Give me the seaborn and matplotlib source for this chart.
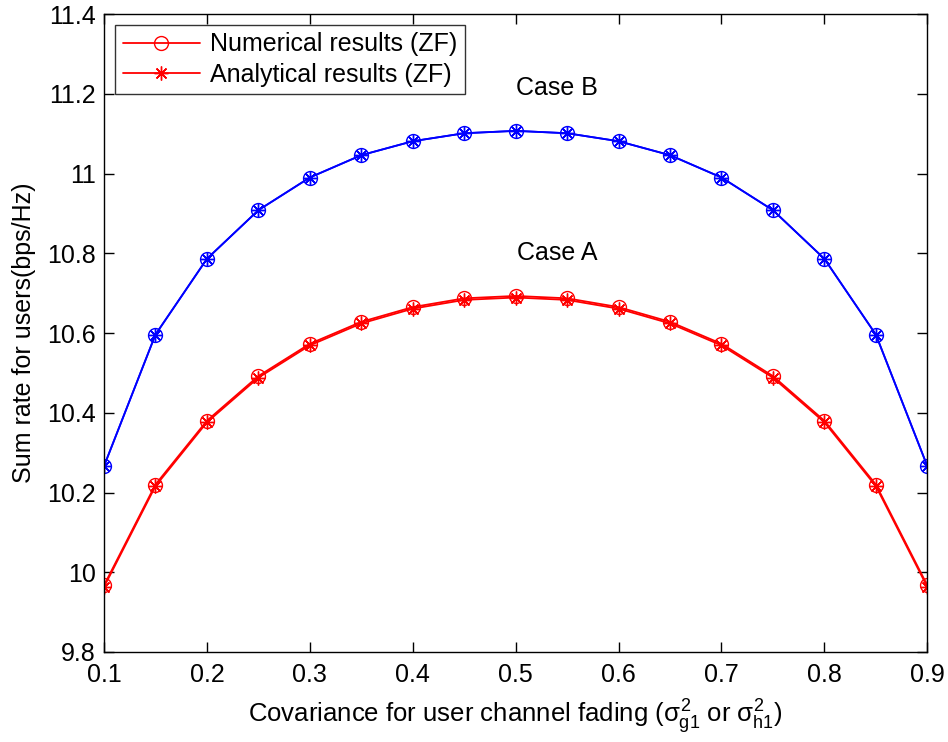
import numpy as np
import pandas as pd
import matplotlib
matplotlib.use("Agg")
import matplotlib.pyplot as plt
import seaborn as sns

# Covariance values on the x axis
sigma = [0.10, 0.15, 0.20, 0.25, 0.30, 0.35, 0.40, 0.45, 0.50,
         0.55, 0.60, 0.65, 0.70, 0.75, 0.80, 0.85, 0.90]

# Case A (red)
case_a_numerical = [9.967, 10.220, 10.380, 10.492, 10.573, 10.628, 10.665, 10.687, 10.693,
                    10.687, 10.665, 10.628, 10.573, 10.492, 10.380, 10.220, 9.967]
case_a_analytical = [9.963, 10.216, 10.376, 10.488, 10.569, 10.624, 10.661, 10.683, 10.689,
                     10.683, 10.661, 10.624, 10.569, 10.488, 10.376, 10.216, 9.963]

# Case B (blue)
case_b_numerical = [10.266, 10.596, 10.786, 10.908, 10.990, 11.046, 11.081, 11.101, 11.107,
                    11.101, 11.081, 11.046, 10.990, 10.908, 10.786, 10.596, 10.266]
case_b_analytical = [10.266, 10.596, 10.786, 10.908, 10.990, 11.046, 11.081, 11.101, 11.107,
                     11.101, 11.081, 11.046, 10.990, 10.908, 10.786, 10.596, 10.266]

x_ticks = [0.1, 0.2, 0.3, 0.4, 0.5, 0.6, 0.7, 0.8, 0.9]
y_ticks = [9.8, 10.0, 10.2, 10.4, 10.6, 10.8, 11.0, 11.2, 11.4]
y_tick_labels = ["9.8", "10", "10.2", "10.4", "10.6", "10.8", "11", "11.2", "11.4"]

sns.set_theme(style="white")
plt.rcParams["font.family"] = ["Liberation Sans", "DejaVu Sans"]
plt.rcParams["mathtext.fontset"] = "custom"
plt.rcParams["mathtext.rm"] = "Liberation Sans"
plt.rcParams["mathtext.it"] = "Liberation Sans"
plt.rcParams["mathtext.sf"] = "Liberation Sans"
plt.rcParams["text.color"] = "black"
plt.rcParams["axes.labelcolor"] = "black"

fig = plt.figure(figsize=(9.48, 7.42), dpi=100)
ax = fig.add_axes([0.1097, 0.1213, 0.8685, 0.8598])

asterisk = (8, 2, 0)
FS = 18


def draw(y, color, marker, label=None):
    kw = dict(marker=marker, markersize=10, markeredgewidth=1.0,
              markeredgecolor=color, lw=1.3, color=color)
    if marker == "o":
        kw["markerfacecolor"] = "none"
    if label is None:
        sns.lineplot(x=sigma, y=y, ax=ax, legend=False, **kw)
    else:
        sns.lineplot(x=sigma, y=y, ax=ax, label=label, **kw)


draw(case_a_numerical, "#ff0000", "o", "Numerical results (ZF)")
draw(case_a_analytical, "#ff0000", asterisk, "Analytical results (ZF)")
draw(case_b_numerical, "#0000ff", "o")
draw(case_b_analytical, "#0000ff", asterisk)

ax.set_xlim(0.1, 0.9)
ax.set_ylim(9.8, 11.4)
ax.set_xticks(x_ticks)
ax.set_xticklabels([f"{t:g}" for t in x_ticks])
ax.set_yticks(y_ticks)
ax.set_yticklabels(y_tick_labels)
ax.tick_params(direction="in", length=7, width=1, colors="black", labelsize=FS,
               top=True, right=True, bottom=True, left=True, pad=6)
ax.tick_params(axis="x", pad=8)
for s in ax.spines.values():
    s.set_color("black")
    s.set_linewidth(1.0)

ax.set_xlabel(r"Covariance for user channel fading ($\sigma^2_{g1}$ or $\sigma^2_{h1}$)",
              fontsize=18.5, labelpad=7)
ax.set_ylabel("Sum rate for users(bps/Hz)", fontsize=FS, labelpad=8)

ax.text(0.540, 11.215, "Case B", fontsize=FS, ha="center", va="center")
ax.text(0.540, 10.80, "Case A", fontsize=FS, ha="center", va="center")

leg = ax.legend(loc="upper left", fontsize=FS, frameon=True, fancybox=False,
                edgecolor="black", handlelength=3.1, borderpad=0.3,
                labelspacing=0.25, handletextpad=0.4, borderaxespad=0,
                bbox_to_anchor=(0.0135, 0.983))
leg.get_frame().set_linewidth(1.0)

fig.savefig("out.png", dpi=100, facecolor="white")
